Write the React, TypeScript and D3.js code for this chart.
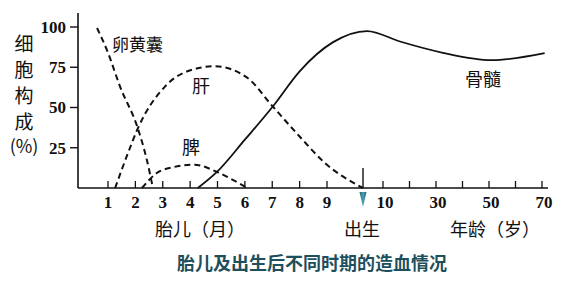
import React from "react";
import * as d3 from "d3";

// x positions use a timeline unit: fetal months 0..9, birth = 10, after birth = 10 + years/10
const monthTicks = [1, 2, 3, 4, 5, 6, 7, 8, 9];
const yearMinorTicks = [10, 20, 30, 40, 50, 60, 70];
const yearLabels = [10, 30, 50, 70];
const yTicks = [25, 50, 75, 100];

const yolkSac: [number, number][] = [[0.6, 99.4], [1.0, 84], [1.44, 63], [2.09, 37], [2.42, 17.4], [2.64, 0]];
const liver: [number, number][] = [[1.26, 0], [1.73, 21.7], [2.09, 37], [3.08, 63], [3.9, 72.5], [4.9, 75.6], [6.07, 68.7], [7.02, 50.6], [8.0, 32], [8.92, 15.6], [10, 0]];
const spleen: [number, number][] = [[2.24, 0], [2.79, 9.4], [3.4, 13], [4.15, 14.5], [4.98, 10], [5.56, 5], [6.1, 0]];
const boneMarrow: [number, number][] = [[4.28, 0], [4.98, 10], [6.0, 30], [7.02, 50.6], [8.0, 72.5], [9.17, 90.6], [10.2, 97.5], [11.64, 91], [13.26, 84], [15.1, 79.4], [17.1, 83.75]];

const yAxisTitle = ["细", "胞", "构", "成"];

export default function App() {
  const x = d3.scaleLinear().domain([1, 9, 10, 11, 17]).range([108, 327, 363, 383, 542]);
  const y = d3.scaleLinear().domain([0, 100]).range([188, 27]);
  const line = d3
    .line<[number, number]>()
    .x((d) => x(d[0]))
    .y((d) => y(d[1]))
    .curve(d3.curveMonotoneX);
  const yearPos = (yr: number) => 10 + yr / 10;
  const numFont = "'Liberation Serif', 'DejaVu Serif', serif";
  const cjk = "'Noto Sans CJK SC', sans-serif";
  const x0 = 78;
  const y0 = 188;
  const bx = x(10);
  return (
    <svg width={572} height={284} style={{ position: "absolute", left: 0, top: 0, background: "#fff" }}>
      <defs>
        <linearGradient id="arr" x1="0" x2="1" y1="0" y2="0">
          <stop offset="0" stopColor="#1f5f6e" />
          <stop offset="0.5" stopColor="#4aa3b3" />
          <stop offset="1" stopColor="#1f5f6e" />
        </linearGradient>
      </defs>
      {/* axes */}
      <line x1={x0} x2={x0} y1={13} y2={y0} stroke="#111" strokeWidth={1.6} />
      <line x1={x0} x2={548} y1={y0} y2={y0} stroke="#111" strokeWidth={1.6} />
      {yTicks.map((t) => (
        <g key={t}>
          <line x1={70} x2={x0} y1={y(t)} y2={y(t)} stroke="#111" strokeWidth={1.4} />
          <text x={66} y={y(t)} dy="0.35em" textAnchor="end" fontFamily={numFont} fontWeight="bold" fontSize={17} fill="#111">
            {t}
          </text>
        </g>
      ))}
      {monthTicks.map((m) => (
        <g key={"m" + m}>
          <line x1={x(m)} x2={x(m)} y1={y0 - 7} y2={y0} stroke="#111" strokeWidth={1.3} />
          <text x={x(m)} y={208} textAnchor="middle" fontFamily={numFont} fontWeight="bold" fontSize={17} fill="#111">
            {m}
          </text>
        </g>
      ))}
      {yearMinorTicks.map((yr) => (
        <line key={"y" + yr} x1={x(yearPos(yr))} x2={x(yearPos(yr))} y1={y0 - 7} y2={y0} stroke="#111" strokeWidth={1.3} />
      ))}
      {yearLabels.map((yr) => (
        <text key={"yl" + yr} x={x(yearPos(yr)) + 2} y={208} textAnchor="middle" fontFamily={numFont} fontWeight="bold" fontSize={17} fill="#111">
          {yr}
        </text>
      ))}
      <line x1={bx} x2={bx} y1={168} y2={y0} stroke="#111" strokeWidth={1.4} />
      <path d={`M${bx - 3.5},192 L${bx + 3.5},192 L${bx},207 Z`} fill="url(#arr)" />
      {/* curves */}
      <path d={line(yolkSac) || ""} fill="none" stroke="#111" strokeWidth={2} strokeDasharray="6,4" />
      <path d={line(liver) || ""} fill="none" stroke="#111" strokeWidth={2} strokeDasharray="6,4" />
      <path d={line(spleen) || ""} fill="none" stroke="#111" strokeWidth={2} strokeDasharray="6,4" />
      <path d={line(boneMarrow) || ""} fill="none" stroke="#111" strokeWidth={1.8} />
      {/* curve labels */}
      <text x={112} y={45} dy="0.35em" fontFamily={cjk} fontSize={17} fill="#111">卵黄囊</text>
      <text x={192} y={87} dy="0.35em" fontFamily={cjk} fontSize={18} fill="#111">肝</text>
      <text x={182} y={148} dy="0.35em" fontFamily={cjk} fontSize={18} fill="#111">脾</text>
      <text x={465} y={80} dy="0.35em" fontFamily={cjk} fontSize={18} fill="#111">骨髓</text>
      {/* y axis title */}
      {yAxisTitle.map((c, i) => (
        <text key={c} x={24} y={44 + i * 26} dy="0.35em" textAnchor="middle" fontFamily={cjk} fontSize={19} fill="#111">
          {c}
        </text>
      ))}
      <text x={24} y={147} dy="0.35em" textAnchor="middle" fontFamily={cjk} fontSize={18} fill="#111">(%)</text>
      {/* x axis titles */}
      <text x={200} y={230} dy="0.35em" textAnchor="middle" fontFamily={cjk} fontSize={18} fill="#111">胎儿（月）</text>
      <text x={362} y={230} dy="0.35em" textAnchor="middle" fontFamily={cjk} fontSize={18} fill="#111">出生</text>
      <text x={495} y={230} dy="0.35em" textAnchor="middle" fontFamily={cjk} fontSize={18} fill="#111">年龄（岁）</text>
      <text x={312} y={264} dy="0.35em" textAnchor="middle" fontFamily={cjk} fontWeight="bold" fontSize={18} fill="#1e4f5c">
        胎儿及出生后不同时期的造血情况
      </text>
    </svg>
  );
}
